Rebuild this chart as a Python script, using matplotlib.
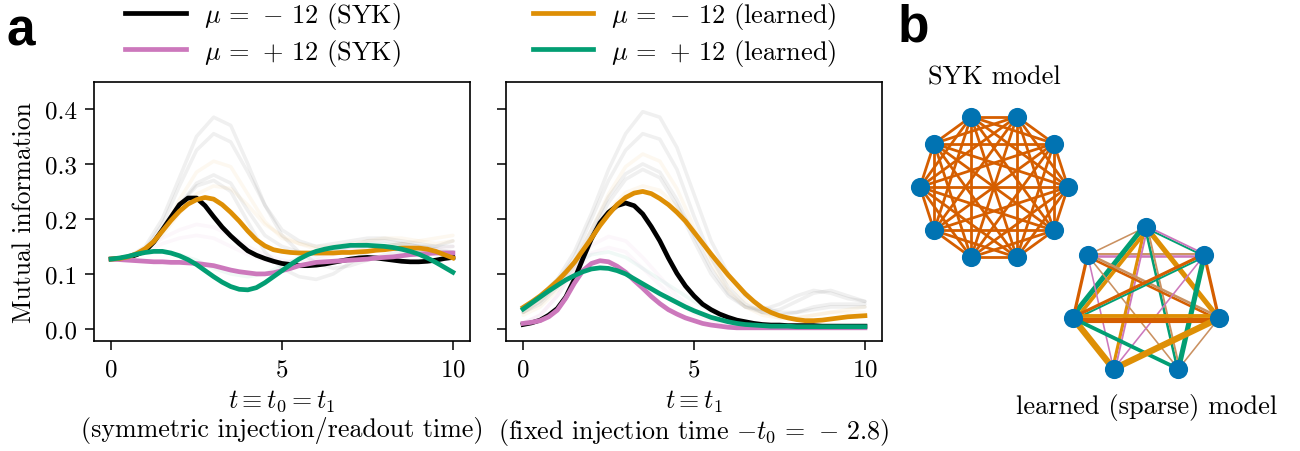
import numpy as np
import matplotlib
matplotlib.use("Agg")
import matplotlib.pyplot as plt
from matplotlib.lines import Line2D

plt.rcParams['font.family'] = 'serif'
plt.rcParams['font.serif'] = ['cmr10']
plt.rcParams['mathtext.fontset'] = 'cm'
plt.rcParams['axes.unicode_minus'] = False
plt.rcParams['axes.formatter.use_mathtext'] = True
plt.rcParams['font.size'] = 18

# ---------------- data ----------------
t = np.arange(41) * 0.25   # sample times of the highlighted curves
tf = np.arange(21) * 0.5   # sample times of the faint realisations

# panel a (left): symmetric injection/readout time
L_syk_neg = [0.127, 0.128, 0.130, 0.135, 0.142, 0.158, 0.180, 0.203, 0.226, 0.238, 0.238,
             0.224, 0.204, 0.185, 0.169, 0.155, 0.142, 0.134, 0.128, 0.123, 0.119,
             0.117, 0.115, 0.115, 0.116, 0.118, 0.121, 0.124, 0.127, 0.129, 0.130,
             0.129, 0.127, 0.125, 0.123, 0.122, 0.122, 0.123, 0.125, 0.128, 0.130]
L_syk_pos = [0.127, 0.126, 0.125, 0.124, 0.123, 0.122, 0.122, 0.121, 0.121, 0.120, 0.119,
             0.117, 0.115, 0.111, 0.107, 0.104, 0.102, 0.100, 0.100, 0.102, 0.106,
             0.110, 0.115, 0.118, 0.121, 0.122, 0.123, 0.124, 0.125, 0.126, 0.127,
             0.129, 0.130, 0.131, 0.133, 0.135, 0.136, 0.137, 0.138, 0.138, 0.138]
L_lrn_neg = [0.127, 0.128, 0.131, 0.137, 0.146, 0.159, 0.178, 0.197, 0.214, 0.227, 0.235,
             0.239, 0.236, 0.226, 0.212, 0.196, 0.178, 0.162, 0.151, 0.144, 0.141,
             0.139, 0.138, 0.138, 0.138, 0.138, 0.138, 0.139, 0.139, 0.140, 0.141,
             0.143, 0.144, 0.146, 0.147, 0.147, 0.147, 0.145, 0.141, 0.135, 0.129]
L_lrn_pos = [0.127, 0.129, 0.132, 0.136, 0.139, 0.141, 0.141, 0.138, 0.133, 0.126, 0.117,
             0.106, 0.095, 0.085, 0.077, 0.072, 0.071, 0.075, 0.084, 0.095, 0.106,
             0.117, 0.127, 0.135, 0.141, 0.145, 0.148, 0.150, 0.152, 0.152, 0.152,
             0.151, 0.150, 0.148, 0.145, 0.141, 0.136, 0.129, 0.121, 0.112, 0.103]

# panel a (right): fixed injection time
R_syk_neg = [0.008, 0.011, 0.016, 0.025, 0.037, 0.058, 0.090, 0.128, 0.164, 0.193, 0.212,
             0.224, 0.229, 0.224, 0.209, 0.186, 0.160, 0.129, 0.101, 0.078, 0.060,
             0.045, 0.035, 0.027, 0.021, 0.016, 0.013, 0.010, 0.008, 0.007, 0.007,
             0.006, 0.006, 0.006, 0.006, 0.005, 0.005, 0.005, 0.005, 0.005, 0.005]
R_syk_pos = [0.010, 0.012, 0.015, 0.022, 0.034, 0.056, 0.083, 0.106, 0.119, 0.124, 0.122,
             0.114, 0.103, 0.088, 0.074, 0.059, 0.046, 0.035, 0.027, 0.020, 0.015,
             0.010, 0.007, 0.005, 0.003, 0.002, 0.002, 0.002, 0.002, 0.002, 0.002,
             0.002, 0.002, 0.002, 0.002, 0.002, 0.002, 0.002, 0.002, 0.002, 0.002]
R_lrn_neg = [0.039, 0.049, 0.060, 0.073, 0.087, 0.103, 0.121, 0.143, 0.165, 0.188, 0.208,
             0.226, 0.239, 0.247, 0.250, 0.246, 0.237, 0.226, 0.212, 0.196, 0.176,
             0.156, 0.136, 0.117, 0.098, 0.081, 0.064, 0.050, 0.038, 0.030, 0.024,
             0.020, 0.017, 0.015, 0.015, 0.016, 0.018, 0.020, 0.022, 0.023, 0.024]
R_lrn_pos = [0.036, 0.047, 0.058, 0.069, 0.079, 0.089, 0.097, 0.104, 0.109, 0.111, 0.110,
             0.106, 0.100, 0.091, 0.082, 0.073, 0.064, 0.056, 0.048, 0.040, 0.033,
             0.027, 0.021, 0.017, 0.013, 0.010, 0.008, 0.007, 0.006, 0.005, 0.005,
             0.005, 0.004, 0.004, 0.004, 0.004, 0.004, 0.004, 0.004, 0.004, 0.004]

# faint individual realisations (series key, values at tf)
L_faint_keys = ['syk_neg', 'lrn_neg', 'syk_neg', 'lrn_neg', 'syk_neg', 'syk_neg',
                'syk_pos', 'syk_pos', 'lrn_pos']
L_faint = [
    [0.127, 0.13, 0.145, 0.19, 0.26, 0.325, 0.355, 0.34, 0.285, 0.225, 0.18, 0.16, 0.15, 0.155, 0.16, 0.165, 0.165, 0.16, 0.155, 0.15, 0.15],
    [0.127, 0.13, 0.143, 0.18, 0.235, 0.285, 0.305, 0.295, 0.245, 0.195, 0.165, 0.155, 0.15, 0.15, 0.155, 0.16, 0.165, 0.165, 0.16, 0.155, 0.16],
    [0.127, 0.13, 0.14, 0.175, 0.225, 0.265, 0.28, 0.265, 0.215, 0.17, 0.15, 0.14, 0.135, 0.14, 0.15, 0.16, 0.16, 0.155, 0.15, 0.145, 0.14],
    [0.127, 0.13, 0.14, 0.17, 0.21, 0.245, 0.26, 0.255, 0.225, 0.19, 0.17, 0.155, 0.145, 0.14, 0.14, 0.145, 0.15, 0.155, 0.16, 0.165, 0.17],
    [0.127, 0.13, 0.15, 0.2, 0.275, 0.35, 0.385, 0.37, 0.30, 0.225, 0.17, 0.14, 0.12, 0.11, 0.115, 0.125, 0.135, 0.14, 0.14, 0.14, 0.14],
    [0.127, 0.13, 0.142, 0.18, 0.225, 0.26, 0.27, 0.25, 0.195, 0.14, 0.11, 0.095, 0.09, 0.1, 0.12, 0.14, 0.15, 0.155, 0.15, 0.15, 0.16],
    [0.127, 0.13, 0.14, 0.155, 0.165, 0.17, 0.165, 0.15, 0.135, 0.125, 0.12, 0.125, 0.13, 0.14, 0.145, 0.15, 0.15, 0.145, 0.14, 0.14, 0.14],
    [0.127, 0.13, 0.145, 0.165, 0.18, 0.19, 0.185, 0.17, 0.15, 0.135, 0.125, 0.12, 0.125, 0.135, 0.145, 0.15, 0.15, 0.145, 0.14, 0.145, 0.15],
    [0.127, 0.132, 0.138, 0.14, 0.135, 0.125, 0.11, 0.1, 0.095, 0.1, 0.115, 0.13, 0.14, 0.145, 0.15, 0.155, 0.155, 0.15, 0.145, 0.14, 0.13],
]
R_faint_keys = ['syk_neg', 'syk_neg', 'lrn_neg', 'syk_neg', 'lrn_neg',
                'syk_pos', 'syk_pos', 'lrn_pos', 'syk_neg']
R_faint = [
    [0.04, 0.06, 0.09, 0.14, 0.21, 0.29, 0.355, 0.395, 0.385, 0.33, 0.245, 0.16, 0.1, 0.06, 0.04, 0.03, 0.03, 0.035, 0.04, 0.04, 0.04],
    [0.035, 0.055, 0.085, 0.13, 0.2, 0.27, 0.325, 0.355, 0.345, 0.29, 0.205, 0.13, 0.075, 0.045, 0.03, 0.025, 0.03, 0.04, 0.045, 0.045, 0.045],
    [0.03, 0.05, 0.08, 0.12, 0.18, 0.245, 0.295, 0.318, 0.305, 0.255, 0.185, 0.12, 0.07, 0.04, 0.025, 0.02, 0.02, 0.025, 0.03, 0.035, 0.04],
    [0.03, 0.045, 0.075, 0.115, 0.17, 0.23, 0.272, 0.29, 0.275, 0.225, 0.16, 0.1, 0.06, 0.04, 0.03, 0.035, 0.05, 0.065, 0.07, 0.06, 0.05],
    [0.025, 0.04, 0.07, 0.11, 0.16, 0.215, 0.248, 0.26, 0.252, 0.222, 0.18, 0.13, 0.085, 0.05, 0.03, 0.02, 0.02, 0.025, 0.03, 0.03, 0.03],
    [0.01, 0.025, 0.06, 0.11, 0.152, 0.168, 0.16, 0.13, 0.095, 0.06, 0.035, 0.018, 0.009, 0.005, 0.004, 0.004, 0.004, 0.004, 0.004, 0.004, 0.004],
    [0.01, 0.025, 0.06, 0.105, 0.138, 0.148, 0.14, 0.11, 0.08, 0.05, 0.028, 0.014, 0.007, 0.004, 0.003, 0.003, 0.003, 0.003, 0.003, 0.003, 0.003],
    [0.04, 0.06, 0.09, 0.12, 0.135, 0.14, 0.13, 0.11, 0.09, 0.07, 0.05, 0.032, 0.02, 0.012, 0.008, 0.006, 0.006, 0.006, 0.006, 0.006, 0.006],
    [0.03, 0.05, 0.08, 0.12, 0.18, 0.24, 0.282, 0.3, 0.285, 0.235, 0.17, 0.11, 0.065, 0.04, 0.035, 0.045, 0.06, 0.07, 0.065, 0.055, 0.05],
]

series_keys = ['syk_neg', 'syk_pos', 'lrn_neg', 'lrn_pos']
series_labels = [r'$\mu\,=\,-\,12$ (SYK)', r'$\mu\,=\,+\,12$ (SYK)',
                 r'$\mu\,=\,-\,12$ (learned)', r'$\mu\,=\,+\,12$ (learned)']
xticks = [0, 5, 10]
yticks = [0.0, 0.1, 0.2, 0.3, 0.4]

# panel b graphs
syk_n_nodes = 10
lrn_n_nodes = 7
# learned couplings: (node i, node j, term type, strength)
lrn_edges = [
    (0, 1, 'c', 1.0),
    (0, 6, 'd', 1.2), (0, 6, 'e', 1.2),
    (1, 6, 'e', 1.6), (1, 6, 'c', 1.2),
    (0, 2, 'd', 3.2), (0, 2, 'b', 2.4),
    (0, 3, 'b', 2.0), (0, 3, 'e', 1.2),
    (0, 4, 'd', 1.6), (0, 4, 'c', 1.2),
    (0, 5, 'b', 3.2),
    (1, 2, 'a', 2.0),
    (1, 3, 'e', 1.0),
    (1, 5, 'a', 1.6), (1, 5, 'c', 1.6),
    (1, 4, 'c', 1.0),
    (6, 2, 'a', 2.0), (6, 2, 'd', 1.2),
    (6, 3, 'e', 1.0),
    (6, 4, 'd', 3.2),
    (6, 5, 'a', 2.0),
    (2, 5, 'a', 3.2), (2, 5, 'b', 2.4),
    (2, 3, 'b', 4.0),
    (2, 4, 'd', 2.4),
    (3, 5, 'b', 4.0),
    (4, 5, 'c', 1.0),
]

# ---------------- styles ----------------
colors = {'syk_neg': '#000000', 'syk_pos': '#cc78bc',
          'lrn_neg': '#de8f05', 'lrn_pos': '#029e73'}
term_colors = {'a': '#d55e00', 'b': '#de8f05', 'c': '#ca9161',
               'd': '#029e73', 'e': '#cc78bc'}
node_color = '#0173b2'

W, H = 1300, 452
fig = plt.figure(figsize=(13, 4.52), dpi=100)


def box(x0, y0, x1, y1):
    return [x0 / W, 1 - y1 / H, (x1 - x0) / W, (y1 - y0) / H]


axL = fig.add_axes(box(94, 83, 470, 342))
axR = fig.add_axes(box(506, 83, 882, 342), sharey=axL)

panels = [
    (axL, L_faint_keys, L_faint, [L_syk_neg, L_syk_pos, L_lrn_neg, L_lrn_pos]),
    (axR, R_faint_keys, R_faint, [R_syk_neg, R_syk_pos, R_lrn_neg, R_lrn_pos]),
]
for ax, fkeys, fvals, main in panels:
    for k, v in zip(fkeys, fvals):
        ax.plot(tf, v, color=colors[k], alpha=0.06, lw=2.6,
                solid_capstyle='round', solid_joinstyle='round')
    for k, v in zip(series_keys, main):
        ax.plot(t, v, color=colors[k], lw=3.4, solid_joinstyle='round')
    ax.set_xlim(-0.5, 10.5)
    ax.set_ylim(-0.022, 0.449)
    ax.set_xticks(xticks)
    ax.set_yticks(yticks)
    ax.tick_params(length=6.5, width=1.1, pad=6)
    for s in ax.spines.values():
        s.set_linewidth(1.2)

axL.set_yticklabels(['0.0', '0.1', '0.2', '0.3', '0.4'])
axR.tick_params(labelleft=False)
axL.set_ylabel('Mutual information', labelpad=6, fontsize=18.5)
axL.set_xlabel(r'$t\equiv t_0=t_1$' + '\n(symmetric injection/readout time)',
               linespacing=1.12, labelpad=5, fontsize=18.7)
axR.set_xlabel(r'$t\equiv t_1$' + '\n' + r'(fixed injection time $-t_0\,=\,-\,2.8$)',
               linespacing=1.12, labelpad=5, fontsize=18.7)

handles = [Line2D([], [], color=colors[k], lw=3.4) for k in series_keys]
fig.legend(handles, series_labels, ncol=2, loc='center',
           bbox_to_anchor=(481 / W, 1 - 35 / H), frameon=False, fontsize=19,
           handlelength=2.3, handletextpad=0.68, columnspacing=5.0,
           labelspacing=0.2, borderpad=0.0)

# ---------------- panel b ----------------
def graph_axes(cx, cy, r):
    half = 1.3 * r
    ax = fig.add_axes(box(cx - half, cy - half, cx + half, cy + half))
    ax.set_xlim(-1.3, 1.3)
    ax.set_ylim(-1.3, 1.3)
    ax.set_axis_off()
    return ax


# SYK model: all-to-all couplings on 10 nodes
axS = graph_axes(994, 188, 74)
angS = np.deg2rad(np.arange(syk_n_nodes) * 360 / syk_n_nodes)
xs, ys = np.cos(angS), np.sin(angS)
for i in range(syk_n_nodes):
    for j in range(i + 1, syk_n_nodes):
        axS.plot([xs[i], xs[j]], [ys[i], ys[j]], color='#d55e00', lw=2.0, zorder=1)
axS.plot(xs, ys, 'o', ms=13.8, color=node_color, mec='none', zorder=3)

# learned sparse model
r_px = 74.7
axG = graph_axes(1146, 302.7, r_px)
angG = np.deg2rad(90 + np.arange(lrn_n_nodes) * 360 / lrn_n_nodes)
xg, yg = np.cos(angG), np.sin(angG)
px = 1.0 / r_px  # one pixel in data units
pt2px = 100 / 72.0
groups = {}
for i, j, term, s in lrn_edges:
    groups.setdefault((i, j), []).append((term, s))
for (i, j), terms in groups.items():
    dx, dy = xg[j] - xg[i], yg[j] - yg[i]
    L = np.hypot(dx, dy)
    nx, ny = -dy / L, dx / L
    widths_px = [s * 1.6 for _, s in terms]
    total = sum(widths_px)
    off = -total / 2
    for (term, s), wpx in zip(terms, widths_px):
        c = off + wpx / 2
        off += wpx
        ox, oy = nx * c * px, ny * c * px
        axG.plot([xg[i] + ox, xg[j] + ox], [yg[i] + oy, yg[j] + oy],
                 color=term_colors[term], lw=wpx / pt2px, zorder=1,
                 solid_capstyle='butt')
axG.plot(xg, yg, 'o', ms=13.8, color=node_color, mec='none', zorder=3)

fig.text(994 / W, 1 - 78 / H, 'SYK model', ha='center', va='center', fontsize=19)
fig.text(1147 / W, 1 - 408 / H, 'learned (sparse) model', ha='center', va='center',
         fontsize=19)

fig.text(7 / W, 1 - 45 / H, 'a', fontsize=37, fontweight='bold',
         family='Liberation Sans', va='baseline', ha='left')
fig.text(898 / W, 1 - 41 / H, 'b', fontsize=37, fontweight='bold',
         family='Liberation Sans', va='baseline', ha='left')

fig.savefig('out.png', dpi=100)
